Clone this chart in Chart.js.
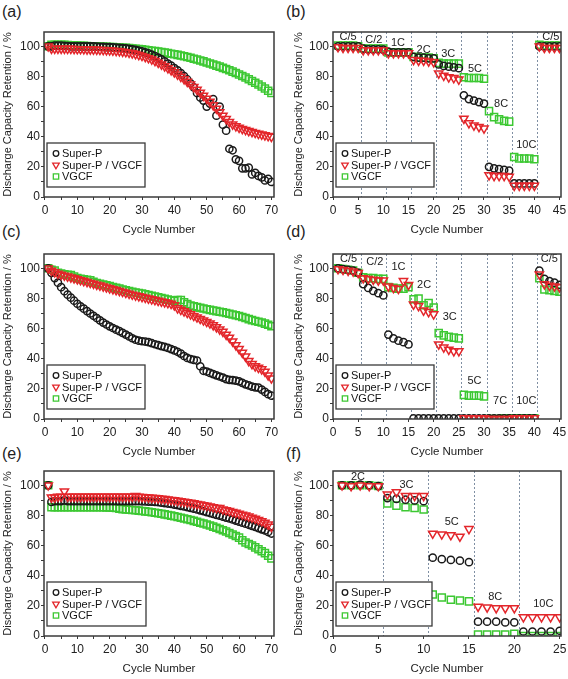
<!DOCTYPE html>
<html>
<head>
<meta charset="utf-8">
<script src="https://cdn.jsdelivr.net/npm/chart.js@4.4.0/dist/chart.umd.min.js"></script>
<style>
  body { margin: 0; background: #fff; width: 568px; height: 679px; position: relative; overflow: hidden;
         font-family: "Liberation Sans", Arial, sans-serif; }
  canvas { position: absolute; }
  .tag { position: absolute; font-size: 16px; line-height: 1; color: #222; }
</style>
</head>
<body>
<div class="tag" style="left:2px;top:4px">(a)</div>
<div class="tag" style="left:286px;top:4px">(b)</div>
<div class="tag" style="left:2px;top:224px">(c)</div>
<div class="tag" style="left:286px;top:224px">(d)</div>
<div class="tag" style="left:2px;top:446px">(e)</div>
<div class="tag" style="left:286px;top:446px">(f)</div>

<canvas id="ca" width="284" height="215" style="left:0;top:22px"></canvas>
<canvas id="cb" width="290" height="215" style="left:290px;top:22px"></canvas>
<canvas id="cc" width="284" height="215" style="left:0;top:244px"></canvas>
<canvas id="cd" width="290" height="215" style="left:290px;top:244px"></canvas>
<canvas id="ce" width="284" height="215" style="left:0;top:461px"></canvas>
<canvas id="cf" width="290" height="215" style="left:290px;top:461px"></canvas>

<script>
// cycle numbers
const cycles70 = Array.from({ length: 70 }, (_, i) => i + 1);
const cycles45 = Array.from({ length: 45 }, (_, i) => i + 1);
const cycles25 = Array.from({ length: 25 }, (_, i) => i + 1);

// (a) cycling retention
const aSuperP = [100,100,100.5,100.5,100.5,100.3,100.2,100,100,100,
  100,100,100,100,100,99.8,99.7,99.6,99.5,99.4,
  99.3,99.2,99,98.8,98.6,98.3,98,97.6,97.2,96.7,
  96,95.3,94.5,93.5,92.5,91.3,90,88.6,87.2,85.6,
  84,82.2,80.3,78,75.5,72.8,69,66,64,60,
  62,65,54,60,48,44,32,31,25,24,
  19,19,19.5,15,16,14,13,11,12,10];
const aSuperPVGCF = [100,98.5,98.5,98.5,98.5,98.5,98.4,98.4,98.3,98.2,
  98.2,98.1,98,98,97.9,97.8,97.7,97.6,97.5,97.4,
  97.2,97,96.8,96.5,96.2,95.8,95.4,94.9,94.3,93.7,
  93,92.2,91.3,90.3,89.2,88,86.8,85.5,84.2,82.8,
  81.3,79.8,78.2,76.5,74.8,73,71.2,69.3,67.3,65.3,
  63.2,61,58.7,56.3,54,51.8,49.8,48.2,47,46,
  45.2,44.5,43.8,43.2,42.6,42,41.5,41,40.5,40];
const aVGCF = [100,101,101,101,101,101,100.8,100.7,100.6,100.5,
  100.4,100.3,100.2,100.1,100,100,99.9,99.8,99.7,99.6,
  99.5,99.4,99.3,99.1,99,98.8,98.6,98.4,98.2,98,
  97.7,97.4,97.1,96.8,96.5,96.2,95.9,95.5,95.1,94.7,
  94.3,93.9,93.4,92.9,92.4,91.8,91.2,90.6,90,89.3,
  88.6,87.9,87.2,86.5,85.7,84.9,84.1,83.2,82.3,81.3,
  80.3,79.3,78.2,77,75.8,74.6,73.3,72,70.5,69];

// (b) rate test
const bSuperP = [100,100,100,100,100, 98.5,98,98,98,97.8, 96.5,96,96,96,96, 93,92.5,92.5,92,92,
  88,87,86.5,86,85.5, 67.5,65,64,63,62, 20,19,18.5,18,17.5, 9,9,9,9,9, 100,100,100,100,100];
const bSuperPVGCF = [99.5,99,99,99,99, 97.5,97.5,97.5,97.5,97.5, 95.5,95.5,95.5,95.5,95.5, 91,90.5,90.5,90,89.5,
  82,80.5,79.5,79,78, 52,49,47.5,46.5,45.5, 14.5,14,14,14,13.5, 7.5,7.5,7.5,7.5,7.5, 100,99,99,99,99];
const bVGCF = [100.5,100.5,100.5,100.5,100, 98.5,98.5,98.5,98.5,98.5, 96,96,96,96,96, 93,92.5,92.5,92.5,92,
  89,88.5,88.5,88.5,88.5, 79.5,79,79,79,78.5, 57,53,51.5,50.5,50, 26.5,25.5,25.5,25.5,25, 101,100.5,100.5,100.5,100.5];
const bRates = ['C/5','C/2','1C','2C','3C','5C','8C','10C','C/5'];
const bRateX = [3,8.1,12.9,18,22.9,28.2,33.4,38.4,43.3];
const bRateY = [106.5,104.4,102,97.6,95,85,61.6,34.4,106.5];
const bSteps = [5.5,10.5,15.5,20.5,25.5,30.5,35.5,40.5];

// (c) cycling retention
const cSuperP = [100,97,93.5,90.5,87.5,84.8,82.5,80.5,78.5,76.5,
  74.8,73.2,71.6,70,68.5,67,65.5,64,62.7,61.5,
  60.4,59.3,58.3,57.2,56,54.8,53.6,52.6,52,51.6,
  51.4,51,50.3,49.6,49,48.4,47.8,47.2,46.4,45.5,
  44.6,43.4,41.8,40.5,39.8,39.2,38.8,35,32,31.5,
  30.6,29.8,29,28.2,27.5,26.5,26,25.8,25.5,25,
  24,23,22.3,21.5,21,20.8,19.5,18,16.5,15.5];
const cSuperPVGCF = [100,98.5,97.5,96.5,95.8,95.2,94.6,94,93.4,92.8,
  92.2,91.6,91,90.4,89.8,89.2,88.6,88,87.4,86.8,
  86.2,85.6,85,84.4,83.8,83.2,82.6,82,81.5,81,
  80.5,80,79.5,79,78.5,78,77.5,77,76.5,75.5,
  73.5,72.5,71.5,70.5,69.5,68.5,67.5,66.5,65.5,64.5,
  63.5,62.3,61,59.5,58,56,54,51.5,49,46.5,
  44,41.5,38.5,36.5,35,34,33,31.5,29,27];
const cVGCF = [100,99,98.5,97,96.5,96,95.7,95.5,94.5,93.5,
  93,92.7,92.4,92,91,90.3,89.8,89.3,88.8,88.2,
  87.6,87,86.5,86,85.5,85,84.5,84,83.6,83.2,
  82.7,82.2,81.7,81.2,80.7,80.2,79.7,79.2,78.8,78.5,
  79,79,77.5,76.3,75.3,74.8,74.3,73.8,73.3,72.8,
  72.4,72,71.6,71.2,70.8,70.3,69.8,69.3,68.8,68.3,
  67.7,67,66.3,65.6,65,64.5,64,63.3,62.5,61.5];

// (d) rate test
const dSuperP = [100,99.5,99,98.5,97, 89.5,87,85,83.5,82, 56,53.5,52,51,49.5, 0.5,0.5,0.5,0.5,0.5,
  0.5,0.5,0.5,0.5,0.5, 0.5,0.5,0.5,0.5,0.5, 0.5,0.5,0.5,0.5,0.5, 0.5,0.5,0.5,0.5,0.5, 98.5,93,91.5,90.5,89];
const dSuperPVGCF = [99.5,99,98.5,98,97, 93.5,93,92.5,92,92, 88,87,86.4,91.6,89, 76,75,72,71,69.5,
  49.5,47.5,46,45,45, 0.5,0.5,0.5,0.5,0.5, 0,0,0,0,0, 0.5,0.5,0.5,0.5,0.5, 96,89.5,88.5,88,87.5];
const dVGCF = [100,99.5,99,98.5,97, 94,93.5,93.5,93,93, 87.5,87,86.5,86.5,87.5, 79.5,80,75.5,77,74,
  57,55.5,54.5,54,53.5, 16,15.5,15.5,15.5,15, 0,0,0,0.5,0.5, 0.5,0.5,0.5,0.5,0.5, 93.5,86,85.5,85,84.5];
const dRates = ['C/5','C/2','1C','2C','3C','5C','7C','10C','C/5'];
const dRateX = [3.1,8.3,13,18.1,23.2,28.1,33.2,38.4,43];
const dRateY = [106,104,101,89,67.5,25,12,12,106];
const dSteps = [5.5,10.5,15.5,20.5,25.5,30.5,35.5,40.5];

// (e) cycling retention
const eSuperP = [100,89,89.5,89.5,89.5,90,89.5,89.5,89.5,89.5,
  89.5,89.5,89.5,89.5,89.5,89.5,89.5,89.5,89.5,89.5,
  89.5,89.5,89.5,89.5,89.5,89.5,89.5,89.5,89.5,89.4,
  89.3,89.2,89.1,89,88.8,88.5,88.2,87.9,87.6,87.2,
  86.8,86.4,86,85.5,85,84.5,84,83.4,82.8,82.2,
  81.6,81,80.4,79.8,79.2,78.6,78,77.3,76.6,75.9,
  75.2,74.5,73.8,73.1,72.4,71.6,70.8,70,69,68];
const eSuperPVGCF = [100,92,92,92.5,92.5,96,92.5,92.5,92.5,92.5,
  92.5,92.5,92.5,92.5,92.5,92.5,92.5,92.5,92.5,92.5,
  92.5,92.5,92.5,92.5,92.5,92.5,92.5,93,92.5,92.3,
  92.2,92,91.8,91.6,91.4,91.2,91,90.7,90.4,90.1,
  89.8,89.5,89.2,88.9,88.5,88.1,87.7,87.3,86.9,86.5,
  86,85.5,85,85,84,83.5,83,82.4,81.8,81.2,
  80.6,80,79.3,78.6,77.9,77.1,76.2,75.2,74,72.5];
const eVGCF = [100,85.5,85.5,85.5,85.5,85.5,85.5,85.5,85.5,85.5,
  85.5,85.5,85.5,85.5,85.5,85.5,85.4,85.4,85.3,85.3,
  85.2,85,84.5,84.2,84,83.8,83.6,83.4,83.2,83,
  82.7,82.4,82.1,81.8,81.5,81.1,80.7,80.3,79.9,79.5,
  79,78.5,78,77.5,77,76.4,75.8,75.2,74.6,74,
  73.3,72.6,71.8,71,70.2,69.3,68.4,67.4,66.4,65.3,
  63.5,62,61,60,58.8,57.6,56.3,55,53.3,51.5];

// (f) rate test
const fSuperP = [100,100,100.5,100,99.5, 91.5,91,90.5,90,89.5, 52,51,50.5,50,49, 9.5,9.5,9.5,9,9, 3,3,3,3,3.5];
const fSuperPVGCF = [100,99.5,100,99.5,99.5, 94,95.5,93,93,93, 68,67.5,67,66,71, 19.5,19,18.5,18.5,18.5, 12.5,12.5,12.5,12.5,12.5];
const fVGCF = [100,100,100,100,99.5, 88,86.5,85.5,85,84, 27.5,25.5,24,23.5,23, 1,1,1,1,1.5, 0,0,0,0,0];
const fRates = ['2C','3C','5C','8C','10C'];
const fRateX = [2.75,8.1,13.1,17.9,23.2];
const fRateY = [105.7,100.2,75.5,25.8,21.4];
const fSteps = [5.5,10.5,15.5,20.5];

const seriesNames = ['Super-P', 'Super-P / VGCF', 'VGCF'];
const FONT = '"Liberation Sans", Arial, sans-serif';
const AXIS = '#3a3a3a';

Chart.defaults.font.family = FONT;
Chart.defaults.color = '#222';

// box around the plot area
const frame = {
  id: 'frame',
  afterDraw(chart) {
    const { ctx, chartArea: a } = chart;
    ctx.save();
    ctx.strokeStyle = AXIS;
    ctx.lineWidth = 1.5;
    ctx.strokeRect(a.left, a.top, a.right - a.left, a.bottom - a.top);
    ctx.restore();
  }
};

// dotted separators between rate steps + rate names
const rateSteps = {
  id: 'rateSteps',
  beforeDatasetsDraw(chart, args, o) {
    if (!o.steps) return;
    const { ctx, chartArea: a, scales: { x, y } } = chart;
    ctx.save();
    ctx.strokeStyle = '#7f8fa3';
    ctx.lineWidth = 1;
    ctx.setLineDash([2, 2]);
    o.steps.forEach(v => {
      const px = Math.round(x.getPixelForValue(v)) + 0.5;
      ctx.beginPath();
      ctx.moveTo(px, a.top);
      ctx.lineTo(px, a.bottom);
      ctx.stroke();
    });
    ctx.setLineDash([]);
    ctx.fillStyle = '#222';
    ctx.font = '11px ' + FONT;
    ctx.textAlign = 'center';
    ctx.textBaseline = 'middle';
    o.labels.forEach((t, i) => {
      ctx.fillText(t, x.getPixelForValue(o.lx[i]), y.getPixelForValue(o.ly[i]));
    });
    ctx.restore();
  }
};

// legend box in the lower left of the plot
const boxLegend = {
  id: 'boxLegend',
  afterDatasetsDraw(chart, args, o) {
    const { ctx, chartArea: a } = chart;
    const w = o.width, h = 44;
    const x = a.left + 3, y = a.bottom - 10 - h;
    ctx.save();
    ctx.fillStyle = '#fff';
    ctx.fillRect(x, y, w, h);
    ctx.strokeStyle = AXIS;
    ctx.lineWidth = 1.3;
    ctx.strokeRect(x, y, w, h);
    const sizes = [2.8, 3.8, 3.8];
    chart.data.datasets.forEach((ds, i) => {
      const cy = y + 10.5 + i * 11.5;
      ctx.fillStyle = 'rgba(0,0,0,0)';
      ctx.strokeStyle = ds.pointBorderColor;
      ctx.lineWidth = 1.3;
      Chart.helpers.drawPoint(ctx, { pointStyle: ds.pointStyle, rotation: ds.pointRotation || 0, radius: sizes[i], borderWidth: 1.3 }, x + 9, cy);
      ctx.fillStyle = '#111';
      ctx.font = '11px ' + FONT;
      ctx.textAlign = 'left';
      ctx.textBaseline = 'middle';
      ctx.fillText(ds.label, x + 15, cy + 0.5);
    });
    ctx.restore();
  }
};

function makeSets(cycles, sp, spv, vg) {
  const pts = ys => ys.map((v, i) => ({ x: cycles[i], y: v }));
  const common = { showLine: false, pointBackgroundColor: 'rgba(0,0,0,0)', pointBorderWidth: 1.5 };
  // red drawn on top, then black, green at the bottom
  return [
    { ...common, label: seriesNames[0], order: 1, data: pts(sp), pointStyle: 'circle', pointRadius: 3.6, pointBorderColor: '#1a1a1a', borderColor: '#1a1a1a' },
    { ...common, label: seriesNames[1], order: 0, data: pts(spv), pointStyle: 'triangle', pointRotation: 180, pointRadius: 4.8, pointBorderColor: '#e3262b', borderColor: '#e3262b' },
    { ...common, label: seriesNames[2], order: 2, data: pts(vg), pointStyle: 'rect', pointRadius: 5, pointBorderColor: '#3cc832', borderColor: '#3cc832' }
  ];
}

function makePanel(id, sets, p) {
  new Chart(document.getElementById(id), {
    type: 'scatter',
    data: { datasets: sets },
    plugins: [frame, rateSteps, boxLegend],
    options: {
      responsive: false,
      animation: false,
      events: [],
      layout: { padding: { top: 10, right: p.padR, left: 0, bottom: 0 } },
      plugins: {
        legend: { display: false },
        tooltip: { enabled: false },
        rateSteps: p.rates || {},
        boxLegend: { width: p.legendW }
      },
      scales: {
        x: {
          type: 'linear', min: p.xMin, max: p.xMax,
          border: { display: false },
          grid: { drawOnChartArea: false, tickLength: 3, color: AXIS, lineWidth: 1 },
          ticks: {
            stepSize: p.xStep, includeBounds: false, autoSkip: false, maxRotation: 0, padding: 3,
            maxTicksLimit: 100, font: { size: 12 }, color: '#222',
            callback: v => (v % p.xLabel === 0 ? v : '')
          },
          title: { display: true, text: 'Cycle Number', font: { size: 11.5 }, color: '#222', padding: 0 },
          afterFit: s => { s.height = 40; }
        },
        y: {
          min: 0, max: 109.5,
          border: { display: false },
          grid: { drawOnChartArea: false, tickLength: 3, color: AXIS, lineWidth: 1 },
          ticks: {
            stepSize: 10, includeBounds: false, padding: 1, autoSkip: false,
            font: { size: 12 }, color: '#222',
            callback: v => (v % 20 === 0 ? v : '')
          },
          title: { display: true, text: 'Discharge Capacity Retention / %', font: { size: 11 }, color: '#222', padding: { top: p.yTitlePad, bottom: 0 } },
          afterFit: s => { s.width = p.yW; }
        }
      }
    }
  });
}

const left = { padR: 10, yW: 44, yTitlePad: 1, xMin: -0.3, xMax: 70.8, xStep: 5, xLabel: 10, legendW: 98 };
const right = { padR: 19, yW: 43, yTitlePad: 2.5, xMin: 0, xMax: 45.3, xStep: 5, xLabel: 5, legendW: 98 };

makePanel('ca', makeSets(cycles70, aSuperP, aSuperPVGCF, aVGCF), left);
makePanel('cb', makeSets(cycles45, bSuperP, bSuperPVGCF, bVGCF),
  { ...right, rates: { steps: bSteps, labels: bRates, lx: bRateX, ly: bRateY } });
makePanel('cc', makeSets(cycles70, cSuperP, cSuperPVGCF, cVGCF), left);
makePanel('cd', makeSets(cycles45, dSuperP, dSuperPVGCF, dVGCF),
  { ...right, rates: { steps: dSteps, labels: dRates, lx: dRateX, ly: dRateY } });
makePanel('ce', makeSets(cycles70, eSuperP, eSuperPVGCF, eVGCF), { ...left, legendW: 99 });
makePanel('cf', makeSets(cycles25, fSuperP, fSuperPVGCF, fVGCF),
  { ...right, xMax: 25.15, legendW: 96, rates: { steps: fSteps, labels: fRates, lx: fRateX, ly: fRateY } });
</script>
</body>
</html>
